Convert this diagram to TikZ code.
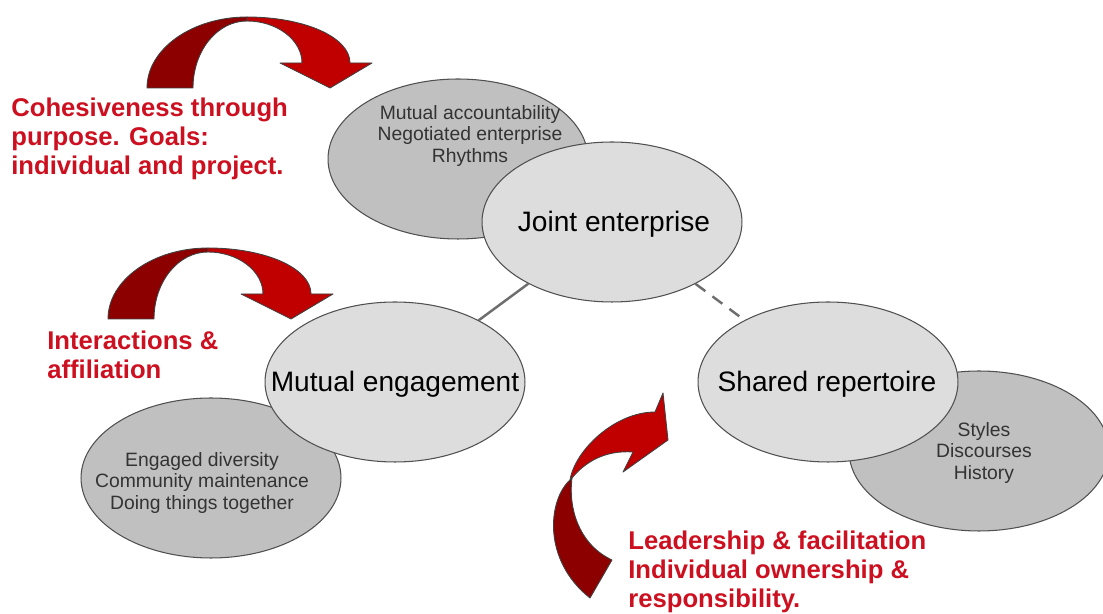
\documentclass[tikz,border=0pt]{standalone}
\usepackage{fontspec}
\setmainfont{Liberation Sans}
\usetikzlibrary{shapes.geometric}

\definecolor{bubblegray}{RGB}{221,221,221}
\definecolor{detailgray}{RGB}{192,192,192}
\definecolor{rimgray}{RGB}{80,80,80}
\definecolor{linkgray}{RGB}{110,110,110}
\definecolor{notered}{RGB}{204,16,32}
\definecolor{arrowred}{RGB}{192,0,0}
\definecolor{arrowdark}{RGB}{140,0,0}

\begin{document}
\begin{tikzpicture}[x=0.02cm,y=-0.02cm,
  bubble/.style={ellipse,draw=rimgray,line width=0.6pt,fill=bubblegray,
    minimum width=5.2cm,minimum height=3.2cm,inner sep=0pt},
  detail/.style={bubble,fill=detailgray},
  mainlbl/.style={font=\fontsize{16}{19}\selectfont},
  detailtxt/.style={font=\fontsize{11}{12.2}\selectfont,align=center,text=black!80},
  note/.style={font=\bfseries\fontsize{14.6}{16.4}\selectfont,text=notered,
    align=left,anchor=north west,inner sep=0pt},
  link/.style={draw=linkgray,line width=1.4pt},
  band/.style={draw=black!75,line width=0.5pt,line join=round}]
\useasboundingbox (0,0) rectangle (1103,614);

% curved arrows over the top two notes
\foreach \ax/\ay in {247/17, 208/248} {
  \begin{scope}[shift={(\ax,\ay)}]
    \filldraw[band,fill=arrowdark] (-100,71) .. controls (-100,32) and (-55,0) .. (0,0)
      -- (0,4) .. controls (-30,4) and (-54,34) .. (-54,71) -- cycle;
    \filldraw[band,fill=arrowred] (0,0) .. controls (57,0) and (103,20) .. (103,46)
      -- (125,46) -- (83,71) -- (33,46) -- (55,46)
      .. controls (55,23) and (30,4) .. (0,4) -- cycle;
  \end{scope}
}
% arrow rising towards the shared repertoire
\filldraw[band,fill=arrowdark] (570,480) .. controls (548,500) and (542,560) .. (590,598)
  -- (612,560) .. controls (580,545) and (568,510) .. (572,478) -- cycle;
\filldraw[band,fill=arrowred] (570,480) .. controls (575,450) and (615,412) .. (655,412)
  -- (663,393) -- (668,440) -- (623,472) -- (633,452)
  .. controls (605,450) and (585,462) .. (572,478) -- cycle;

% background ellipses
\node[detail] (je-det) at (458,159) {};
\node[detail] (me-det) at (211,478) {};
\node[detail] (sr-det) at (979,451) {};

% the three dimensions
\node[bubble] (je) at (612,222) {};
\node[bubble] (me) at (395,382) {};
\node[bubble] (sr) at (828,382) {};

\draw[link] (me) -- (je);
\draw[link,dash pattern=on 7pt off 5pt] (je) -- (sr);

\node[mainlbl] (je-lbl) at (614,224) {Joint enterprise};
\node[mainlbl] (me-lbl) at (395,384) {Mutual engagement};
\node[mainlbl] (sr-lbl) at (827,384) {Shared repertoire};

\node[detailtxt] (je-list) at (470,136) {Mutual accountability\\Negotiated enterprise\\Rhythms};
\node[detailtxt] (me-list) at (202,483) {Engaged diversity\\Community maintenance\\Doing things together};
\node[detailtxt] (sr-list) at (984,453) {Styles\\Discourses\\History};

% notes
\node[note] (purpose) at (11,98) {Cohesiveness through\\purpose. Goals:\\individual and project.};
\node[note] (affil) at (47,331) {Interactions \&\\affiliation};
\node[note] (lead) at (628,531) {Leadership \& facilitation\\Individual ownership \&\\responsibility.};
\end{tikzpicture}
\end{document}
